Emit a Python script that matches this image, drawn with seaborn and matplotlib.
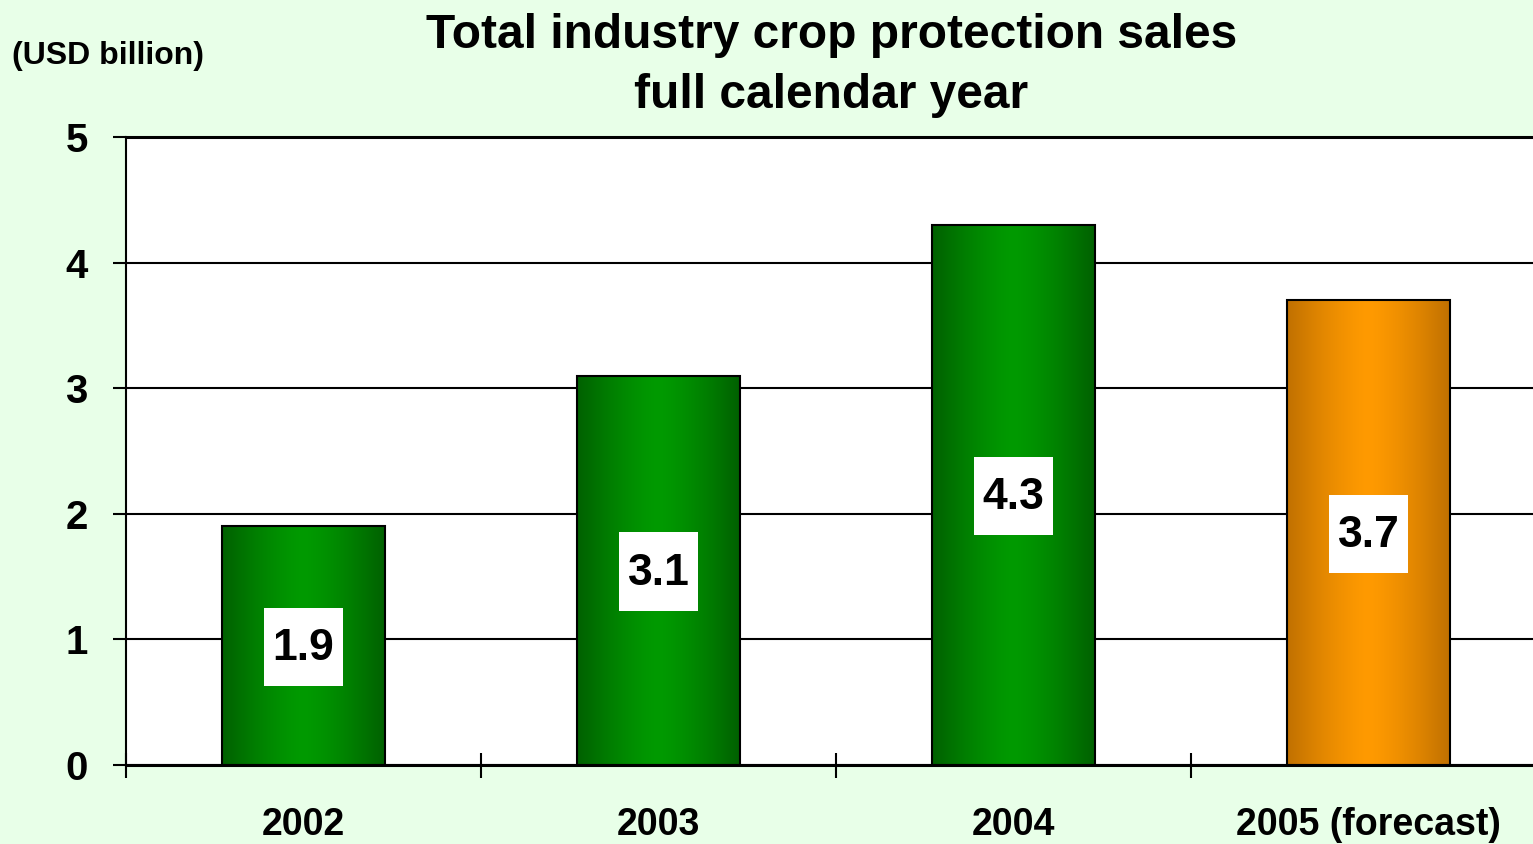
import numpy as np
import pandas as pd
import seaborn as sns
import matplotlib
matplotlib.use("Agg")
import matplotlib.pyplot as plt
from matplotlib.path import Path
from matplotlib.colors import to_rgb

# ---- data ----
years = ["2002", "2003", "2004", "2005 (forecast)"]
sales = [1.9, 3.1, 4.3, 3.7]
value_labels = ["1.9", "3.1", "4.3", "3.7"]
yticks = [0, 1, 2, 3, 4, 5]
title_text = "Total industry crop protection sales\nfull calendar year"
unit_text = "(USD billion)"

# ---- style ----
bg = "#E8FFE8"
center_colors = ["#009A00", "#009A00", "#009A00", "#FF9A00"]
edge_colors = ["#006000", "#006000", "#006000", "#C07000"]

sns.set_theme(style="white")
plt.rcParams["font.family"] = ["Liberation Sans", "DejaVu Sans"]
plt.rcParams["font.weight"] = "bold"
plt.rcParams["text.color"] = "black"
plt.rcParams["xtick.color"] = "black"
plt.rcParams["ytick.color"] = "black"

W, H = 1533, 844
fig = plt.figure(figsize=(W / 100, H / 100), dpi=100, facecolor=bg)
ax = fig.add_axes([126 / W, 79 / H, 1420 / W, 628 / H])
ax.set_facecolor("white")

df = pd.DataFrame({"year": years, "sales": sales})
sns.barplot(data=df, x="year", y="sales", hue="year", palette=center_colors,
            legend=False, width=0.457, saturation=1, edgecolor="black",
            linewidth=1.5, ax=ax, zorder=3)

# gradient fill for bars
n = 256
t = np.linspace(0, 1, n)
prof = 1 - np.abs(2 * t - 1) ** 1.4
for i, patch in enumerate(ax.patches):
    x0, y0 = patch.get_x(), patch.get_y()
    w, h = patch.get_width(), patch.get_height()
    c1 = np.array(to_rgb(edge_colors[i]))
    c2 = np.array(to_rgb(center_colors[i]))
    grad = c1[None, :] + (c2 - c1)[None, :] * prof[:, None]
    ax.imshow(grad[None, :, :], extent=[x0, x0 + w, y0, y0 + h],
              aspect="auto", interpolation="bilinear", zorder=2.5)
    patch.set_facecolor("none")


def square_box(x0, y0, width, height, mutation_size):
    cx = x0 + width / 2
    cy = y0 + height / 2 + 0.04 * mutation_size
    hs = 0.88 * mutation_size
    return Path([(cx - hs, cy - hs), (cx + hs, cy - hs), (cx + hs, cy + hs),
                 (cx - hs, cy + hs), (cx - hs, cy - hs)], closed=True)


for i, (v, lab) in enumerate(zip(sales, value_labels)):
    ax.annotate(lab, xy=(i, v / 2), xytext=(0, -3), textcoords="offset pixels",
                ha="center", va="center", fontsize=32, fontweight="bold",
                zorder=5,
                bbox=dict(boxstyle=square_box, facecolor="white", edgecolor="none"))

ax.set_xlim(-0.5, 3.5)
ax.set_ylim(0, 5)
ax.set_yticks(yticks)
ax.set_yticklabels([str(v) for v in yticks])
ax.set_xticks(range(len(years)))
ax.set_xticklabels(years)
ax.set_xticks([-0.5, 0.5, 1.5, 2.5, 3.5], minor=True)
ax.set_xlabel("")
ax.set_ylabel("")

ax.yaxis.grid(True, color="black", linewidth=1.5, zorder=1)
ax.set_axisbelow(True)

ax.tick_params(axis="y", left=True, direction="out", length=9.5, width=1.5,
               pad=18, labelsize=29)
ax.tick_params(axis="x", which="major", bottom=True, length=0, pad=30,
               labelsize=27)
ax.tick_params(axis="x", which="minor", bottom=True, direction="inout",
               length=18, width=1.5)

for s in ["left"]:
    ax.spines[s].set_linewidth(1.5)
    ax.spines[s].set_color("black")
for s in ["top", "bottom"]:
    ax.spines[s].set_linewidth(2.2)
    ax.spines[s].set_color("black")
ax.spines["right"].set_visible(False)

fig.text(831.5 / W, 1 - 13 / H, title_text, ha="center", va="top",
         fontsize=34.5, fontweight="bold", linespacing=1.44)
fig.text(12 / W, 1 - 56 / H, unit_text, ha="left", va="center",
         fontsize=23, fontweight="bold")

fig.savefig("out.png", dpi=100, facecolor=bg)
